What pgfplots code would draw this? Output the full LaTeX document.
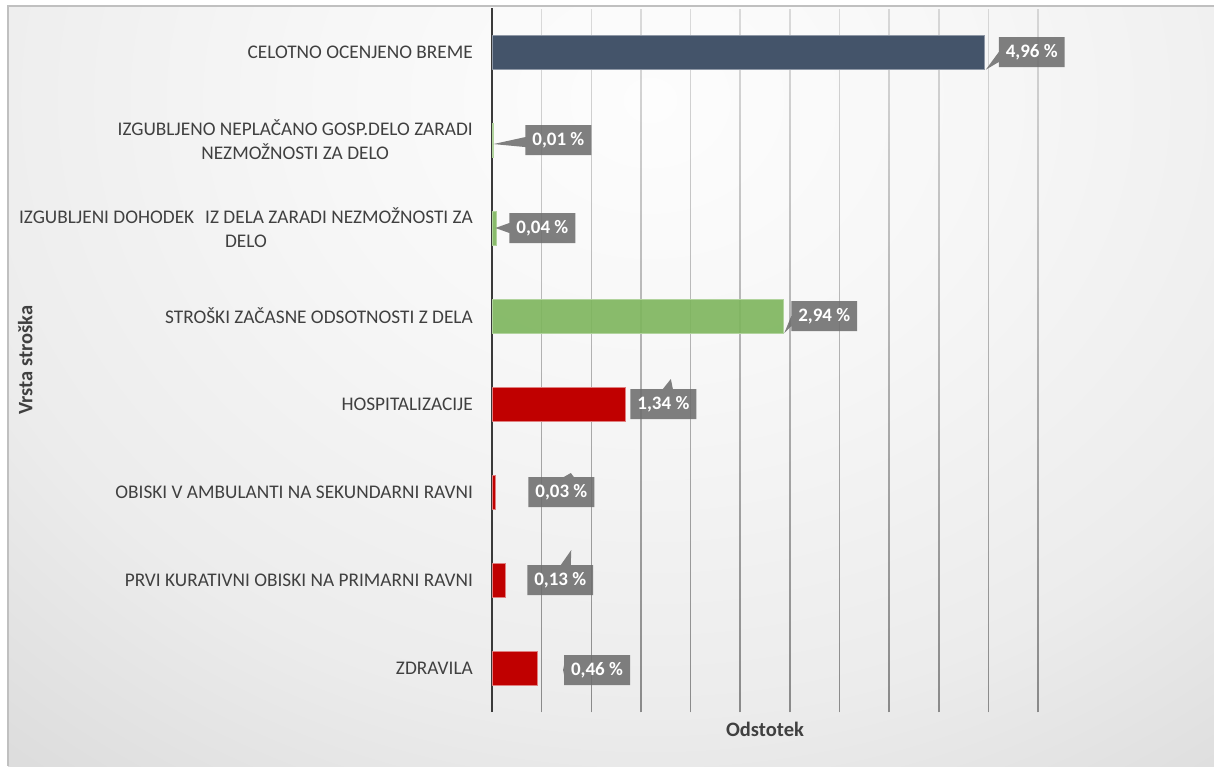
\documentclass[border=0pt]{standalone}
\usepackage{pgfplots}
\pgfplotsset{compat=1.18}
\usepackage{pgfplotstable}
\usepackage{fontspec}
\setmainfont{Carlito}
\usetikzlibrary{shapes.callouts,fadings}

\definecolor{txt}{HTML}{404040}
\definecolor{axisc}{HTML}{3A3A3A}
\definecolor{gridc}{HTML}{8A8A8A}
\definecolor{navyc}{HTML}{44546A}
\definecolor{grnc}{HTML}{7DB55C}
\definecolor{redc}{HTML}{C00000}
\definecolor{lblc}{HTML}{6E6E6E}
\definecolor{bgA}{HTML}{FDFDFD}
\definecolor{bgB}{HTML}{F7F7F7}
\definecolor{bgC}{HTML}{ECECEC}
\definecolor{bgD}{HTML}{DDDDDD}
\definecolor{bgE}{HTML}{D2D2D2}
\definecolor{bgF}{HTML}{CBCBCB}
\definecolor{framec}{HTML}{C0C0C0}

\tikzfading[name=gridfade, top color=transparent!72, bottom color=transparent!0]

\pgfdeclareradialshading{bgshade}{\pgfpoint{0bp}{0bp}}{%
  color(0bp)=(bgA); color(8bp)=(bgB); color(18bp)=(bgC); color(25bp)=(bgD);
  color(33bp)=(bgE); color(50bp)=(bgF)}

\pgfplotstableread{
y val dx dy px py
7 4.96 14 0 -13 -5
}\navytab
\pgfplotstableread{
y val dx dy px py
6 0.01 32 0 -32 -2
5 0.04 13 0 -14 0
4 2.94 7 0 -7 -3
}\greentab
\pgfplotstableread{
y val dx dy px py
3 1.34 5 0 3 10
2 0.03 33 0 2 4
1 0.13 22 0 5.5 15
0 0.46 26 -2 -1 0
}\redtab

\begin{document}
\begin{tikzpicture}[x=1pt,y=1pt]
\useasboundingbox (0,0) rectangle (1214,766);
\fill[white] (0,0) rectangle (1214,766);
\begin{scope}
  \clip (8,0) rectangle (1214,760);
  \shade[shading=bgshade] (650-1000,666-850) rectangle (650+1000,666+850);
\end{scope}
\draw[framec, line width=2pt] (8,0) -- (8,760) -- (1214,760);

\begin{axis}[
  at={(492pt,54pt)}, anchor=south west,
  width=546pt, height=704pt, scale only axis,
  xmin=0, xmax=5.5, ymin=-0.5, ymax=7.5,
  xbar, bar width=34pt, bar shift=0pt,
  axis lines*=left,
  axis line style={-},
  x axis line style={draw=none},
  y axis line style={draw=axisc, line width=2.5pt},
  xtick={0.5,1,...,5.5}, xticklabels={},
  xmajorgrids, major grid style={draw=gridc, line width=1.5pt, path fading=gridfade},
  ytick={0,...,7},
  yticklabels={ZDRAVILA,
    PRVI KURATIVNI OBISKI NA PRIMARNI RAVNI,
    OBISKI V AMBULANTI NA SEKUNDARNI RAVNI,
    HOSPITALIZACIJE,
    STROŠKI ZAČASNE ODSOTNOSTI Z DELA,
    {IZGUBLJENI DOHODEK\hspace{11pt}IZ DELA ZARADI NEZMOŽNOSTI ZA\\DELO},
    {IZGUBLJENO NEPLAČANO GOSP.DELO ZARADI\\NEZMOŽNOSTI ZA DELO},
    CELOTNO OCENJENO BREME},
  major tick length=0pt,
  tick style={draw=none},
  yticklabel style={align=center, font=\fontsize{19.3}{24}\selectfont, text=txt, inner sep=0pt, xshift=-19pt},
  xlabel={Odstotek}, ylabel={Vrsta stroška},
  label style={font=\bfseries\fontsize{20.5}{24}\selectfont, text=txt},
  xlabel style={at={(axis description cs:0.5,-0.024)}, anchor=center},
  ylabel style={at={(axis description cs:-0.855,0.5)}, anchor=center},
  clip=false,
  point meta=x,
  visualization depends on={\thisrow{dx}\as\dx},
  visualization depends on={\thisrow{dy}\as\dy},
  visualization depends on={\thisrow{px}\as\px},
  visualization depends on={\thisrow{py}\as\py},
  nodes near coords={\pgfmathprintnumber[assume math mode=true,fixed,fixed zerofill,precision=2,use comma]{\pgfplotspointmeta}~\%},
  nodes near coords style={anchor=west, xshift=\dx pt, yshift=\dy pt,
    rectangle callout, callout relative pointer={(\px pt,\py pt)},
    callout pointer width=10pt,
    fill=lblc, fill opacity=0.88, text opacity=1, text=white,
    font=\bfseries\fontsize{19}{21}\selectfont,
    inner xsep=7pt, inner ysep=0pt, minimum height=30pt},
]
\addplot[fill=navyc, draw=navyc!60!white, line width=0.8pt] table[x=val,y=y]{\navytab};
\addplot[fill=grnc, fill opacity=0.9, draw=grnc!60!white, line width=0.8pt] table[x=val,y=y]{\greentab};
\addplot[fill=redc, draw=redc!50!white, line width=0.8pt] table[x=val,y=y]{\redtab};
\end{axis}
\end{tikzpicture}
\end{document}
